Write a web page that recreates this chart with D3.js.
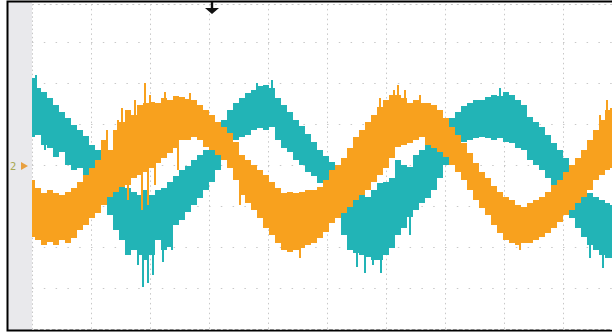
<!DOCTYPE html>
<html>
<head>
<meta charset="utf-8">
<script src="https://cdn.jsdelivr.net/npm/d3@7"></script>
<style>
  body { margin: 0; background: #fff; }
  svg { display: block; }
</style>
</head>
<body>
<svg></svg>
<script>
// canvas
const w = 612;
const h = 335;

// sample times (points on the 590-point record) and min/max of each channel in ADC counts (41 counts per division)
const time = [
  0, 6, 12, 18, 24, 30, 36, 42, 48, 54,
  60, 66, 72, 78, 84, 90, 96, 102, 108, 114,
  120, 126, 132, 138, 144, 150, 156, 162, 168, 174,
  180, 186, 192, 198, 204, 210, 216, 222, 228, 234,
  240, 246, 252, 258, 264, 270, 276, 282, 288, 294,
  300, 306, 312, 318, 324, 330, 336, 342, 348, 354,
  360, 366, 372, 378, 384, 390, 396, 402, 408, 414,
  420, 426, 432, 438, 444, 450, 456, 462, 468, 474,
  480, 486, 492, 498, 504, 510, 516, 522, 528, 534,
  540, 546, 552, 558, 564, 570, 576, 580
];

// channel 1 (teal)
const ch1Max = [
  87, 77, 73, 67, 60, 53, 47, 40, 35, 29,
  20, 15, 5, -3, -13, -20, -23, -27, -30, -25,
  -30, -25, -23, -17, -11, -5, -1, 5, 10, 15,
  25, 37, 45, 55, 62, 67, 72, 75, 79, 80,
  77, 67, 60, 53, 45, 39, 31, 23, 15, 9,
  3, -10, -20, -25, -28, -30, -32, -25, -18, -17,
  -13, 5, 0, -2, 10, 15, 20, 25, 32, 40,
  47, 53, 59, 62, 65, 65, 68, 70, 69, 73,
  70, 65, 60, 48, 43, 38, 30, 22, 15, 7,
  0, -13, -25, -28, -32, -35, -38, -40
];
const ch1Min = [
  28, 30, 20, 17, 8, 13, 0, -5, -3, -13,
  -20, -28, -35, -50, -65, -75, -90, -85, -90, -95,
  -90, -75, -85, -82, -60, -55, -47, -40, -33, -25,
  -17, -5, 8, 20, 25, 28, 30, 35, 37, 35,
  38, 25, 17, 13, 5, 0, -7, -11, -18, -23,
  -30, -50, -70, -85, -88, -90, -92, -95, -95, -90,
  -83, -70, -63, -52, -45, -38, -33, -25, -13, 0,
  13, 20, 23, 25, 27, 28, 27, 25, 27, 23,
  22, 17, 15, 5, 0, -5, -13, -20, -27, -40,
  -53, -63, -72, -80, -85, -90, -93, -93
];
const ch1SpikeTime = [4, 13, 56, 68, 106, 111, 116, 121, 131, 140, 225, 240, 325, 333, 341, 349, 378, 468, 558, 571];
const ch1SpikeTip = [90, 15, -25, -40, -100, -122, -118, -110, -97, -85, 82, 85, -102, -108, -100, -108, -70, 77, -93, -103];

// channel 2 (orange)
const ch2Max = [
  -15, -23, -28, -25, -28, -30, -27, -23, -17, -10,
  -3, 5, 25, 15, 35, 43, 55, 50, 60, 62,
  63, 62, 67, 65, 69, 68, 66, 65, 60, 55,
  50, 43, 38, 32, 23, 10, 5, 0, -5, -10,
  -17, -23, -28, -27, -28, -27, -25, -25, -22, -15,
  -5, 0, 7, 17, 28, 35, 43, 50, 58, 65,
  70, 70, 67, 62, 65, 62, 62, 60, 55, 47,
  38, 30, 22, 12, 2, -7, -13, -21, -27, -32,
  -35, -40, -42, -38, -35, -32, -27, -20, -15, -7,
  0, 7, 15, 25, 35, 45, 55, 57
];
const ch2Min = [
  -72, -75, -80, -77, -80, -75, -78, -73, -65, -60,
  -53, -48, -40, -32, -27, -22, -20, -13, -10, -7,
  -3, 2, 7, 12, 17, 25, 25, 28, 25, 18,
  15, 10, 5, -3, -15, -30, -38, -45, -53, -63,
  -70, -78, -85, -87, -85, -83, -80, -78, -73, -67,
  -58, -53, -48, -42, -35, -30, -25, -17, -10, -3,
  7, 18, 20, 22, 25, 28, 20, 17, 13, 8,
  0, -7, -15, -25, -35, -43, -50, -60, -68, -75,
  -78, -80, -78, -78, -75, -72, -68, -63, -57, -50,
  -45, -38, -32, -25, -15, -10, -5, -3
];
const ch2SpikeTime = [75, 86, 90, 96, 103, 110, 113, 116, 118, 123, 133, 146, 158, 208, 268, 348, 362, 366, 373, 388, 488, 568, 575];
const ch2SpikeTip = [35, 45, 57, -35, 65, -45, 82, -40, 70, -20, 73, -5, 72, -40, -93, 67, 75, 80, 75, 70, -85, 50, 65];

// scope frame: 10 x 8 divisions
const xDivs = d3.range(0, 11);
const yDivs = d3.range(-4, 5);

const svg = d3.select("svg")
              .attr("width", w)
              .attr("height", h);

const xScale = d3.scaleLinear()
                 .domain([0, 590])
                 .range([32, 622]);

const yScale = d3.scaleLinear()
                 .domain([-164, 164])
                 .range([329, 1]);

// outer frame and grey label strip
svg.append("rect")
   .attr("x", 8).attr("y", 2)
   .attr("width", 24).attr("height", 328)
   .attr("fill", "#e9e9ec");

svg.append("path")
   .attr("d", "M" + (w + 2) + ",1.5 H7.5 V330.5 H" + (w + 2))
   .attr("fill", "none")
   .attr("stroke", "#000")
   .attr("stroke-width", 2);

// dotted graticule
const grid = svg.append("g").attr("stroke", "#c8c8c8").attr("stroke-width", 1);

grid.selectAll(".vgrid")
    .data(xDivs)
    .enter()
    .append("line")
    .attr("class", "vgrid")
    .attr("x1", d => Math.round(xScale(d * 59)) + 0.5)
    .attr("x2", d => Math.round(xScale(d * 59)) + 0.5)
    .attr("y1", yScale(164) + 3)
    .attr("y2", yScale(-164))
    .attr("stroke-dasharray", d => d === 0 ? "1.5,2.6" : "1.5,3.4");

grid.selectAll(".hgrid")
    .data(yDivs)
    .enter()
    .append("line")
    .attr("class", "hgrid")
    .attr("y1", d => Math.round(yScale(d * 41)) + (d === 4 ? 3.5 : 0.5))
    .attr("y2", d => Math.round(yScale(d * 41)) + (d === 4 ? 3.5 : 0.5))
    .attr("x1", xScale(0))
    .attr("x2", w)
    .attr("stroke-dasharray", d => (d === 4 || d === -4) ? "2,3.9" : "1.5,10.3");

// each channel as a min/max envelope
const samples = time.map((t, i) => ({
  t: t,
  max1: ch1Max[i], min1: ch1Min[i],
  max2: ch2Max[i], min2: ch2Min[i]
}));

function envelope(maxKey, minKey) {
  return d3.area()
           .curve(d3.curveStep)
           .x(d => xScale(d.t))
           .y0(d => yScale(d[minKey]))
           .y1(d => yScale(d[maxKey]));
}

function drawChannel(color, maxKey, minKey, spikeTime, spikeTip) {
  const g = svg.append("g");
  g.append("path")
   .datum(samples)
   .attr("d", envelope(maxKey, minKey))
   .attr("fill", color);

  // single spikes sticking out of the band
  g.selectAll("line")
   .data(spikeTime)
   .enter()
   .append("line")
   .attr("x1", d => xScale(d))
   .attr("x2", d => xScale(d))
   .attr("y1", (d, i) => yScale(spikeTip[i]))
   .attr("y2", d => {
     const s = samples[d3.minIndex(samples, p => Math.abs(p.t - d))];
     return yScale((s[maxKey] + s[minKey]) / 2);
   })
   .attr("stroke", color)
   .attr("stroke-width", 2);
}

drawChannel("#22b4b6", "max1", "min1", ch1SpikeTime, ch1SpikeTip);
drawChannel("#f8a11e", "max2", "min2", ch2SpikeTime, ch2SpikeTip);

// channel 2 ground marker
svg.append("text")
   .attr("x", 10)
   .attr("y", yScale(0) + 5)
   .attr("font-family", "DejaVu Sans, sans-serif")
   .attr("font-size", 10)
   .attr("fill", "#a8a852")
   .text("2");

svg.append("path")
   .attr("d", "M21," + (yScale(0) - 3) + " L28," + (yScale(0) + 1) + " L21," + (yScale(0) + 5) + " Z")
   .attr("fill", "#e8a040");

// trigger position arrow
const trigX = xScale(180);
svg.append("path")
   .attr("d", "M" + (trigX - 1.2) + ",2 H" + (trigX + 1.2) + " V8 H" + (trigX + 7) + " L" + trigX + ",14 L" + (trigX - 7) + ",8 H" + (trigX - 1.2) + " Z")
   .attr("fill", "#111");
</script>
</body>
</html>
